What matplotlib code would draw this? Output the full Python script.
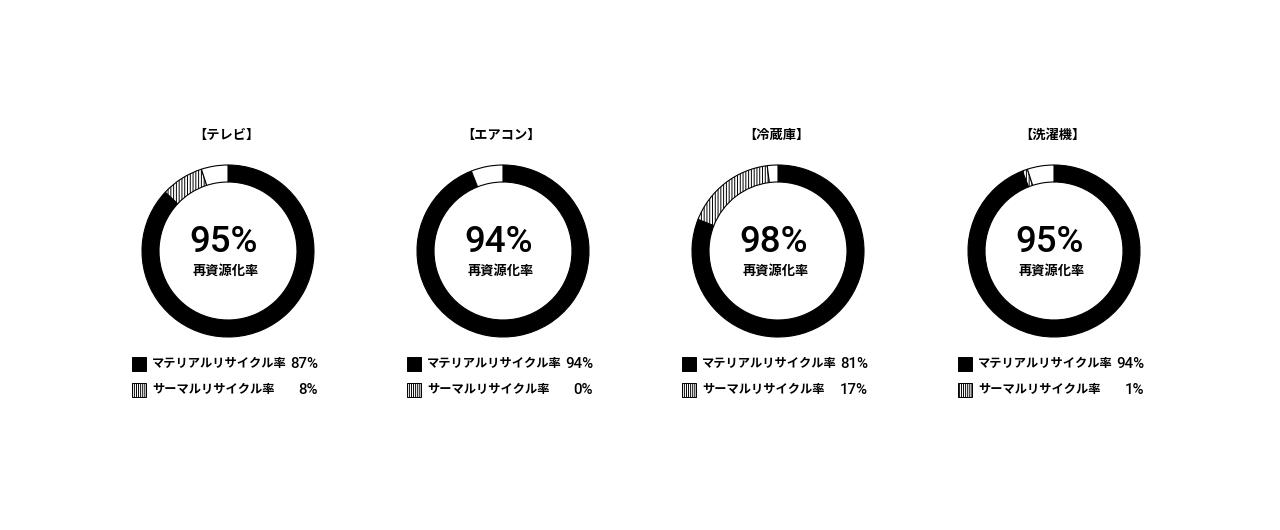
import matplotlib
matplotlib.use("Agg")
import matplotlib.pyplot as plt
from matplotlib.patches import Rectangle

plt.rcParams['font.family'] = ['Noto Sans CJK JP', 'DejaVu Sans']
plt.rcParams['hatch.linewidth'] = 0.7

# --- data ---
titles = ["【テレビ】", "【エアコン】", "【冷蔵庫】", "【洗濯機】"]
material = [87, 94, 81, 94]
thermal = [8, 0, 17, 1]
total = [95, 94, 98, 95]
center_label = "再資源化率"
legend_labels = ["マテリアルリサイクル率", "サーマルリサイクル率"]

# --- layout (pixels) ---
W, H = 1280, 530
centers_x = [228, 503, 778, 1054]
cy = 251
R = 86
ring = 17
num_font = ['Roboto', 'DejaVu Sans']

fig = plt.figure(figsize=(W / 100, H / 100), dpi=100)
fig.patch.set_facecolor("white")
base = fig.add_axes([0, 0, 1, 1])
base.set_xlim(0, W)
base.set_ylim(H, 0)
base.set_axis_off()

for i, cx in enumerate(centers_x):
    # donut
    pax = fig.add_axes([(cx - R) / W, 1 - (cy + R) / H, 2 * R / W, 2 * R / H])
    rest = 100 - material[i] - thermal[i]
    wedges, _ = pax.pie([material[i], thermal[i], rest],
                        colors=["black", "white", "white"],
                        startangle=90, counterclock=False,
                        radius=1.0,
                        wedgeprops=dict(width=ring / R, edgecolor="black", linewidth=0.8))
    wedges[1].set_hatch("||||||")
    for w in wedges:
        w.set_clip_on(False)
    pax.set_xlim(-1, 1)
    pax.set_ylim(-1, 1)
    pax.set_axis_off()

    # texts
    base.text(cx - 2, 135, titles[i], ha="center", va="center",
              fontsize=9.5, fontweight="bold")
    base.text(cx - 4, 243, f"{total[i]}%", ha="center", va="center",
              fontsize=26.5, family=num_font, fontweight="medium")
    base.text(cx - 2, 271, center_label, ha="center", va="center",
              fontsize=9.5, fontweight="bold")

    # legend
    rows_y = [364, 390]
    vals = [material[i], thermal[i]]
    for j, ly in enumerate(rows_y):
        sq = Rectangle((cx - 96, ly - 7), 14, 14,
                       facecolor="black" if j == 0 else "white",
                       edgecolor="black", linewidth=0.7,
                       hatch=None if j == 0 else "||||||||")
        base.add_patch(sq)
        base.text(cx - 76, ly, legend_labels[j], ha="left", va="center",
                  fontsize=8.8, fontweight="bold")
        base.text(cx + 90, ly, f"{vals[j]}%", ha="right", va="center",
                  fontsize=10.8, family=num_font, fontweight="medium")

fig.savefig("out.png", dpi=100, facecolor="white")
